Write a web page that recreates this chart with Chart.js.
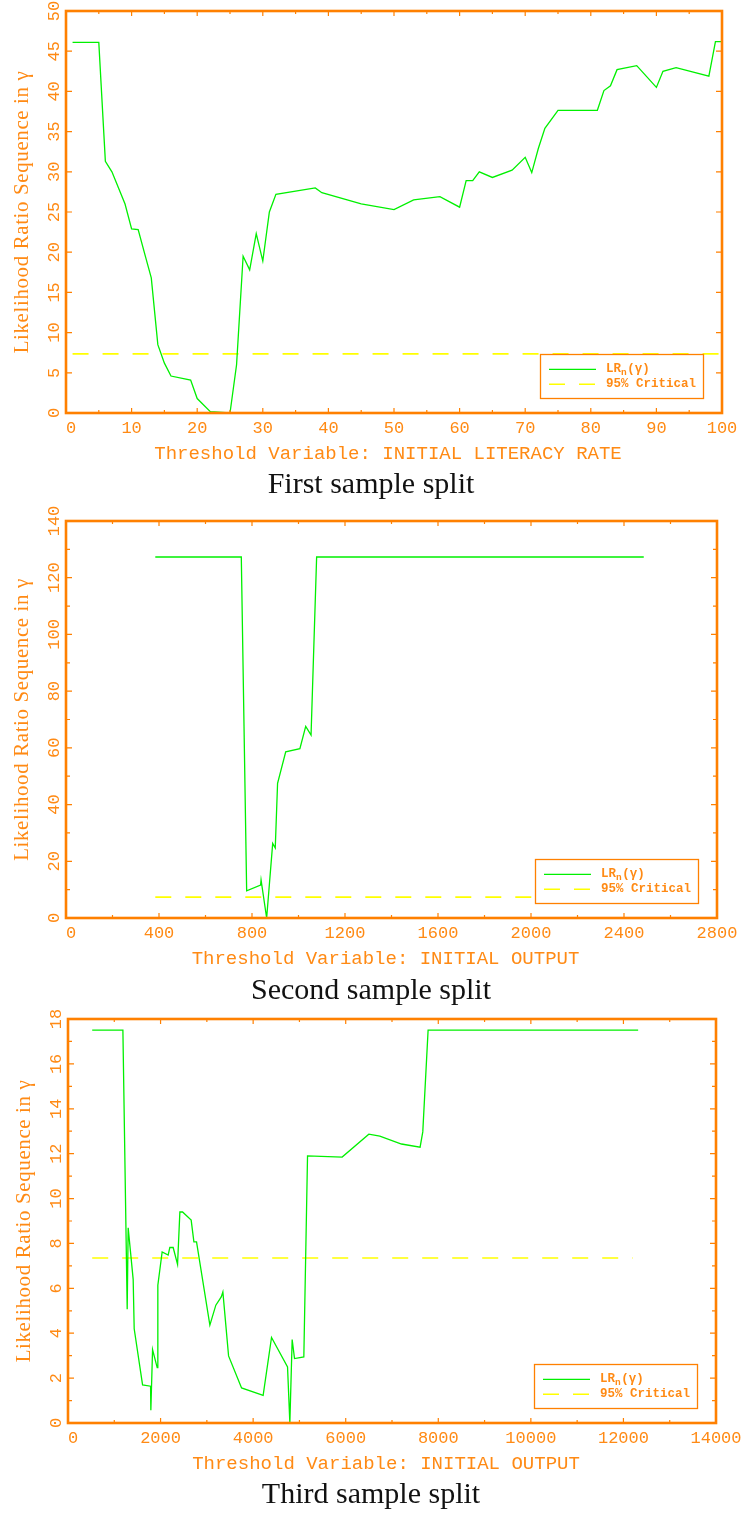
<!DOCTYPE html>
<html><head><meta charset="utf-8">
<script src="https://cdn.jsdelivr.net/npm/chart.js@4.4.1/dist/chart.umd.min.js"></script>
<style>
html,body{margin:0;padding:0;background:#fff;}
#wrap{position:relative;width:742px;height:1513px;overflow:hidden;background:#fff;}
canvas{position:absolute;left:0;}
.cap{position:absolute;left:0;width:742px;text-align:center;font-family:"Liberation Serif","DejaVu Serif",serif;font-size:30px;line-height:30px;color:#111;white-space:nowrap;}
</style></head><body>
<div id="wrap">
<canvas id="c1" width="742" height="505" style="top:0px"></canvas>
<canvas id="c2" width="742" height="500" style="top:505px"></canvas>
<canvas id="c3" width="742" height="508" style="top:1005px"></canvas>
<div class="cap" style="top:468px">First sample split</div>
<div class="cap" style="top:974px">Second sample split</div>
<div class="cap" style="top:1478px">Third sample split</div>
</div>
<script>
// ---------- DATA ----------
const CRIT = 7.35;

// First sample split: threshold = initial literacy rate
const litX = [1,5,6,7,9,10,11,12,13,14,15,16,19,20,22,25,26,27,28,29,30,31,32,38,39,45,50,53,57,60,61,62,63,65,68,70,71,72,73,75,81,82,83,84,87,90,91,93,98,99,100];
const litY = [46.1,46.1,31.3,30.0,26.0,22.9,22.8,19.8,16.8,8.5,6.2,4.6,4.1,1.8,0.17,0,6.0,19.5,17.8,22.3,18.9,25.0,27.2,28.0,27.4,26.0,25.3,26.5,26.9,25.6,28.9,28.9,30.0,29.3,30.2,31.8,29.9,32.9,35.4,37.65,37.65,40.1,40.7,42.7,43.2,40.5,42.5,42.95,41.9,46.2,46.2];
const critX1 = [1, 99.5];
const xLabels1 = [0,10,20,30,40,50,60,70,80,90,100];
const yLabels1 = [0,5,10,15,20,25,30,35,40,45,50];

// Second sample split: threshold = initial output
const out2X = [384,754,777,837,839,863,889,900,910,945,1006,1031,1054,1078,2485];
const out2Y = [127.3,127.3,9.6,11.6,13.4,0,26.3,24.7,47.5,58.6,59.7,67.6,64.5,127.3,127.3];
const critX2 = [384, 2485];
const xLabels2 = [0,400,800,1200,1600,2000,2400,2800];
const yLabels2 = [0,20,40,60,80,100,120,140];

// Third sample split: threshold = initial output
const out3X = [523,1186,1279,1300,1408,1430,1611,1784,1790,1827,1927,1941,2034,2164,2200,2272,2367,2417,2475,2661,2720,2777,3065,3194,3311,3346,3469,3750,4216,4397,4743,4793,4843,4894,5095,5175,5923,6499,6737,7205,7607,7665,7780,12318];
const out3Y = [17.5,17.5,5.07,8.7,6.4,4.2,1.7,1.64,0.57,3.27,2.47,6.14,7.62,7.48,7.82,7.82,7.07,9.4,9.4,9.04,8.07,8.07,4.36,5.25,5.62,5.84,2.99,1.56,1.23,3.81,2.5,0,3.72,2.87,2.94,11.9,11.85,12.87,12.78,12.43,12.29,12.97,17.5,17.5];
const critX3 = [523, 12200];
const xLabels3 = [0,2000,4000,6000,8000,10000,12000,14000];
const yLabels3 = [0,2,4,6,8,10,12,14,16,18];

const legendLabels = ['LR', '95% Critical'];
const yTitle = 'Likelihood Ratio Sequence in \u03B3';

// ---------- STYLE ----------
const ORANGE = '#ff8000';
const TXT = '#ff8a14';
const GREEN = '#00f000';
const YELLOW = '#ffff00';
const MONO = '"Liberation Mono","DejaVu Sans Mono",monospace';
const SERIF = '"Liberation Serif","DejaVu Serif",serif';

function makeDecor(o) {
  return {
    id: 'decor',
    afterDatasetsDraw(chart) {
      const ctx = chart.ctx, a = chart.chartArea, xs = chart.scales.x, ys = chart.scales.y;
      ctx.save();
      // legend box
      const bw = 163, bh = 44;
      const bx = a.right - 19 - bw, by = a.bottom - 15 - bh;
      ctx.fillStyle = '#fff';
      ctx.fillRect(bx, by, bw, bh);
      ctx.strokeStyle = ORANGE; ctx.lineWidth = 1.3;
      ctx.strokeRect(bx + 0.5, by + 0.5, bw, bh);
      chart.data.datasets.forEach((ds, i) => {
        const yy = by + 15.3 + i * 15;
        ctx.strokeStyle = ds.borderColor; ctx.lineWidth = ds.borderWidth;
        ctx.setLineDash(ds.borderDash || []);
        ctx.beginPath(); ctx.moveTo(bx + 9, yy); ctx.lineTo(bx + 56, yy); ctx.stroke();
        ctx.setLineDash([]);
        ctx.fillStyle = TXT; ctx.textBaseline = 'middle'; ctx.textAlign = 'left';
        ctx.font = 'bold 12.5px ' + MONO;
        let tx = bx + 66;
        if (i === 0) {
          ctx.fillText('LR', tx, yy); tx += ctx.measureText('LR').width;
          ctx.font = 'bold 9.5px ' + MONO;
          ctx.fillText('n', tx, yy + 3); tx += ctx.measureText('n').width + 0.5;
          ctx.font = 'bold 12.5px ' + MONO;
          ctx.fillText('(\u03B3)', tx, yy);
        } else {
          ctx.fillText(ds.label, tx, yy);
        }
      });
      // ticks
      ctx.strokeStyle = ORANGE; ctx.lineWidth = 1.2;
      const xl = o.xLabels, yl = o.yLabels;
      function tickX(v, len) {
        const p = xs.getPixelForValue(v);
        ctx.beginPath(); ctx.moveTo(p, a.bottom); ctx.lineTo(p, a.bottom - len);
        ctx.moveTo(p, a.top); ctx.lineTo(p, a.top + len); ctx.stroke();
      }
      function tickY(v, len) {
        const p = ys.getPixelForValue(v);
        ctx.beginPath(); ctx.moveTo(a.left, p); ctx.lineTo(a.left + len, p);
        ctx.moveTo(a.right, p); ctx.lineTo(a.right - len, p); ctx.stroke();
      }
      xl.forEach((v, i) => { tickX(v, 5); if (i < xl.length - 1) tickX((v + xl[i + 1]) / 2, 3); });
      yl.forEach((v, i) => { tickY(v, 6); if (o.yMinor && i < yl.length - 1) tickY((v + yl[i + 1]) / 2, 4); });
      // frame
      ctx.lineWidth = 2.6; ctx.strokeStyle = ORANGE;
      ctx.strokeRect(a.left, a.top, a.right - a.left, a.bottom - a.top);
      // x tick labels
      ctx.fillStyle = TXT; ctx.font = '17px ' + MONO; ctx.textBaseline = 'alphabetic';
      xl.forEach((v, i) => {
        const p = xs.getPixelForValue(v);
        if (i === 0) { ctx.textAlign = 'left'; ctx.fillText(String(v), p, a.bottom + 19.5); }
        else { ctx.textAlign = 'center'; ctx.fillText(String(v), p, a.bottom + 19.5); }
      });
      // y tick labels (rotated)
      yl.forEach(v => {
        const p = ys.getPixelForValue(v);
        ctx.save(); ctx.translate(a.left - 7, p); ctx.rotate(-Math.PI / 2);
        ctx.textAlign = 'center'; ctx.fillText(String(v), 0, 0); ctx.restore();
      });
      // x title
      ctx.font = '19px ' + MONO; ctx.textAlign = 'center';
      ctx.fillText(o.xTitle, (a.left + a.right) / 2 - 6, a.bottom + 45.5);
      // y title
      ctx.save();
      ctx.font = '21px ' + SERIF;
      const w = ctx.measureText(yTitle).width, target = 282;
      if ('letterSpacing' in ctx && w < target) ctx.letterSpacing = ((target - w) / (yTitle.length - 1)).toFixed(2) + 'px';
      ctx.translate(a.left - 38, (a.top + a.bottom) / 2); ctx.rotate(-Math.PI / 2);
      ctx.textAlign = 'center'; ctx.fillText(yTitle, 0, 0);
      ctx.restore();
      ctx.restore();
    }
  };
}

function build(id, o) {
  const pts = o.x.map((v, i) => ({ x: v, y: o.y[i] }));
  const crit = o.critX.map(v => ({ x: v, y: CRIT }));
  new Chart(document.getElementById(id), {
    type: 'scatter',
    data: { datasets: [
      { label: legendLabels[0], data: pts, showLine: true, borderColor: GREEN, borderWidth: 1.3, pointRadius: 0, tension: 0 },
      { label: legendLabels[1], data: crit, showLine: true, borderColor: YELLOW, borderWidth: 1.6, borderDash: [16, 14], pointRadius: 0 }
    ] },
    options: {
      responsive: false, animation: false, events: [],
      layout: { padding: o.pad },
      plugins: { legend: { display: false }, tooltip: { enabled: false } },
      scales: {
        x: { type: 'linear', min: o.xLabels[0], max: o.xLabels[o.xLabels.length - 1], display: false },
        y: { type: 'linear', min: o.yLabels[0], max: o.yLabels[o.yLabels.length - 1], display: false }
      }
    },
    plugins: [makeDecor(o)]
  });
}

build('c1', { x: litX, y: litY, critX: critX1, xLabels: xLabels1, yLabels: yLabels1, yMinor: false,
  xTitle: 'Threshold Variable: INITIAL LITERACY RATE', pad: { left: 66, top: 11, right: 20, bottom: 92 } });
build('c2', { x: out2X, y: out2Y, critX: critX2, xLabels: xLabels2, yLabels: yLabels2, yMinor: true,
  xTitle: 'Threshold Variable: INITIAL OUTPUT', pad: { left: 66, top: 16, right: 25, bottom: 87 } });
build('c3', { x: out3X, y: out3Y, critX: critX3, xLabels: xLabels3, yLabels: yLabels3, yMinor: true,
  xTitle: 'Threshold Variable: INITIAL OUTPUT', pad: { left: 68, top: 14, right: 26, bottom: 90 } });
</script>
</body></html>
